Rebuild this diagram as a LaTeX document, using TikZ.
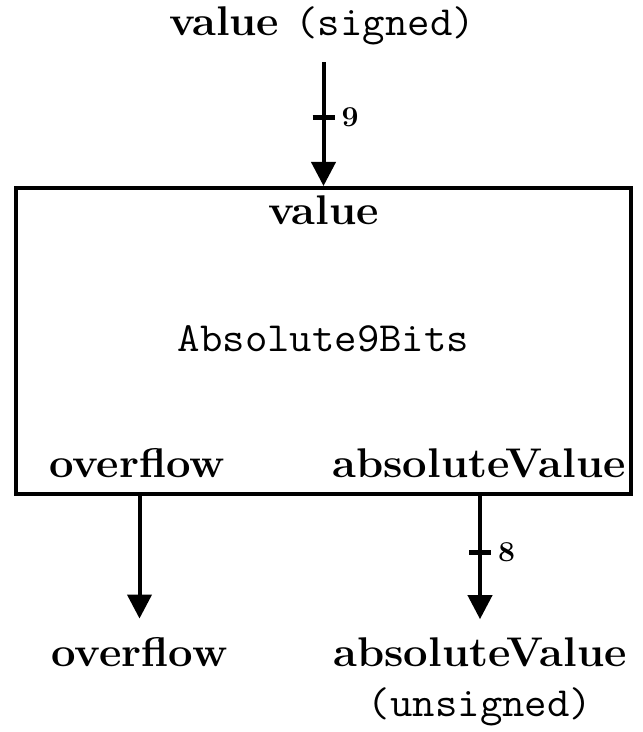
\documentclass[tikz,border=0pt]{standalone}
\usepackage{tikz}
\usetikzlibrary{arrows.meta}
\usetikzlibrary{positioning}
\tikzset{
label text/.style = { font = \huge\bfseries, inner sep = 0pt, xscale = 1.05, transform shape },
type text/.style = { font = \huge\mdseries\ttfamily, inner sep = 0pt, xscale = 1.05, transform shape },
bit count/.style = { font = \Large\bfseries, inner sep = 0pt, xscale = 1.05, transform shape },
block/.style = { rectangle, draw = black, line width = 2pt, minimum width = 307.5pt, minimum height = 153pt, inner sep = 0pt },
wire/.style = { line width = 2pt, -{Triangle[width = 12pt, length = 12pt]} },
}
\tikzset{
pics/bus tick/.style = {
        code = {
        \draw[-, shorten <= 0pt, shorten >= 0pt, line width = 2.4pt] (-11, 0) -- (11, 0);
        }
    }
}

\begin{document}
\begin{tikzpicture}[x = 0.5pt, y = -0.5pt]
    \useasboundingbox (0, 0) rectangle (642, 732);
    % the block and its ports
    \node[block] (abs) at (323.5, 341) {};
    \node[type text, anchor = base] (abs name) at (323.5, 351) {Absolute9Bits};
    \node[label text, anchor = base] (port in) at (323.5, 225) {value};
    \node[label text, anchor = base] (port ovf) at (137, 477) {overflow};
    \node[label text, anchor = base] (port abs) at (479, 477) {absoluteValue};
    % signals outside
    \node[label text, anchor = base] (sig in) at (322, 36) {value {\mdseries\ttfamily(signed)}};
    \node[label text, anchor = base] (ovf out) at (139.5, 666) {overflow};
    \node[label text, anchor = north, align = center] (abs out) at (480, 637.2) {absoluteValue\\{\mdseries\ttfamily(unsigned)}};
    % wires
    \draw[wire, shorten <= 8.3pt] (sig in.south -| abs.north) -- (abs.north) pic[pos = 0.51]{bus tick} node[bit count, pos = 0.51, right = 8pt] (bits in) {9};
    \draw[wire, shorten >= 9pt] (abs.south -| ovf out) -- (ovf out.north);
    \draw[wire, shorten >= 9pt] (abs.south -| abs out) -- (abs out.north) pic[pos = 0.4]{bus tick} node[bit count, pos = 0.4, right = 8pt] (bits abs) {8};
\end{tikzpicture}
\end{document}
